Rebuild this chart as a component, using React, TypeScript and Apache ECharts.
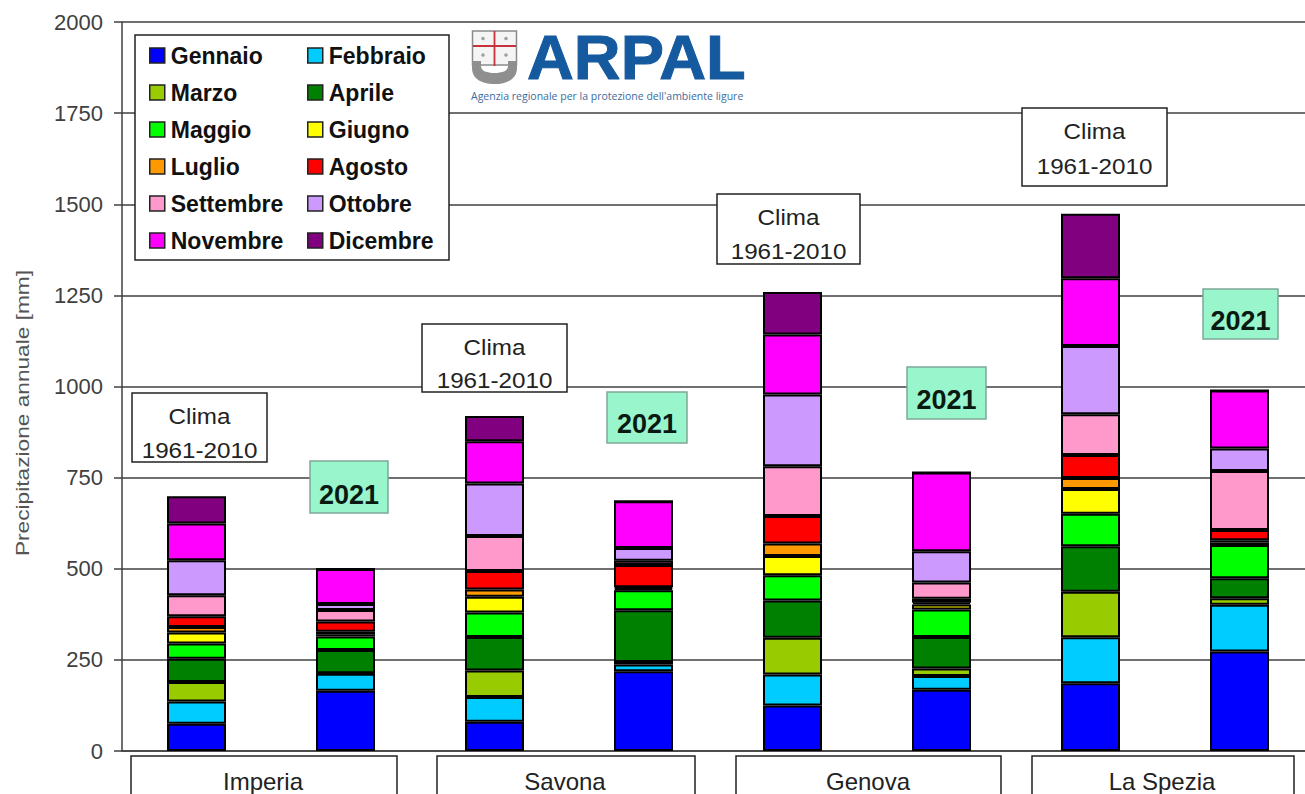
import React, { useEffect, useRef } from "react";
import * as echarts from "echarts";

const categories = [
  "Imperia Clima", "Imperia 2021", "Savona Clima", "Savona 2021",
  "Genova Clima", "Genova 2021", "La Spezia Clima", "La Spezia 2021",
];
const months = [
  "Gennaio", "Febbraio", "Marzo", "Aprile", "Maggio", "Giugno",
  "Luglio", "Agosto", "Settembre", "Ottobre", "Novembre", "Dicembre",
];
const monthColors = [
  "#0000FF", "#00CCFF", "#99CC00", "#008000", "#00FF00", "#FFFF00",
  "#FF9900", "#FF0000", "#FF99CC", "#CC99FF", "#FF00FF", "#800080",
];
const gennaio = [75, 165, 80, 219, 125, 168, 186, 273];
const febbraio = [61, 47, 68, 18, 85, 38, 126, 128];
const marzo = [53, 1, 73, 7, 101, 20, 125, 18];
const aprile = [64, 64, 92, 142, 102, 87, 125, 55];
const maggio = [42, 37, 67, 55, 69, 75, 89, 91];
const giugno = [30, 6, 43, 4, 53, 14, 68, 7];
const luglio = [15, 7, 20, 4, 34, 5, 30, 6];
const agosto = [30, 28, 51, 61, 76, 11, 63, 28];
const settembre = [57, 32, 96, 12, 136, 44, 112, 162];
const ottobre = [96, 16, 144, 35, 197, 86, 187, 62];
const novembre = [101, 96, 116, 128, 165, 216, 186, 159];
const dicembre = [75, 0, 69, 0, 116, 0, 177, 0];
const monthValues = [
  gennaio, febbraio, marzo, aprile, maggio, giugno,
  luglio, agosto, settembre, ottobre, novembre, dicembre,
];
const legendLeft = ["Gennaio", "Marzo", "Maggio", "Luglio", "Settembre", "Novembre"];
const legendRight = ["Febbraio", "Aprile", "Giugno", "Agosto", "Ottobre", "Dicembre"];
const provinces = ["Imperia", "Savona", "Genova", "La Spezia"];
const climaLabel = ["Clima", "1961-2010"];
const yearLabel = "2021";

echarts.graphic.registerShape(
  "shieldBand",
  echarts.graphic.extendPath(
    "M0 0 L0 7 C0 18 10 23 22.5 23 C35 23 45 18 45 7 L45 0 L36 0 L36 5 C36 10 30 12 22.5 12 C15 12 9 10 9 5 L9 0 Z",
    {}
  )
);

const FONT = "'Liberation Sans', Arial, sans-serif";
const INK = "#404040";

const txt = (
  text: string, x: number, y: number, fontSize: number,
  extra: any = {}, fontWeight: any = "normal", fill = "#222"
) => ({
  type: "text", x, y, z: 21, ...extra,
  style: { text, fontSize, fontWeight, fontFamily: FONT, fill, align: "center", verticalAlign: "middle" },
});
const box = (x: number, y: number, width: number, height: number, fill: string, stroke: string, z = 20, lineWidth = 1.5) => ({
  type: "rect", z, shape: { x, y, width, height }, style: { fill, stroke, lineWidth },
});

const climaBoxes = [
  [132, 393, 135, 69, 416, 450],
  [422, 324, 145, 68, 347, 380],
  [717, 194, 143, 70, 217, 251],
  [1022, 108, 145, 78, 131, 166],
];
const yearBoxes = [
  [310, 461, 78, 52, 495],
  [607, 392, 80, 51, 424],
  [907, 367, 79, 52, 400],
  [1203, 289, 75, 50, 321],
];
const provinceBoxes = [
  [131, 756, 266, 60, 263, 781],
  [437, 756, 258, 60, 565, 781],
  [736, 756, 265, 60, 868, 781],
  [1032, 756, 262, 60, 1162, 781],
];

function buildGraphic() {
  const els: any[] = [];
  els.push(box(135, 35, 314, 225, "#fff", "#222", 3));
  climaBoxes.forEach(([x, y, w, h, y1, y2]) => {
    els.push(box(x, y, w, h, "#fff", "#222"));
    els.push(txt(climaLabel[0], x + w / 2, y1, 22, { scaleX: 1.1 }));
    els.push(txt(climaLabel[1], x + w / 2, y2, 22, { scaleX: 1.1 }));
  });
  yearBoxes.forEach(([x, y, w, h, ty]) => {
    els.push(box(x, y, w, h, "#99F5CC", "#7FA898"));
    els.push(txt(yearLabel, x + w / 2, ty, 27, {}, "bold", "#0a1a10"));
  });
  provinceBoxes.forEach(([x, y, w, h, cx, cy], i) => {
    els.push(box(x, y, w, h, "#fff", "#222"));
    els.push(txt(provinces[i], cx, cy, 24));
  });
  els.push(txt("Precipitazione annuale [mm]", 22, 413, 18, { rotation: Math.PI / 2, scaleX: 1.26, z: 5 }, "normal", "#555"));

  // ARPAL logo
  els.push(box(472.5, 31, 44, 34, "#f4f4f4", "#8a8a8a", 5, 1.5));
  els.push({ type: "line", z: 6, shape: { x1: 494.5, y1: 31, x2: 494.5, y2: 66 }, style: { stroke: "#c8323c", lineWidth: 1.8 } });
  els.push({ type: "line", z: 6, shape: { x1: 473, y1: 46, x2: 516, y2: 46 }, style: { stroke: "#c8323c", lineWidth: 1.8 } });
  [[483, 38.5], [506, 38.5], [483, 55], [506, 55]].forEach(([cx, cy]) => {
    els.push({ type: "circle", z: 6, shape: { cx, cy, r: 1.8 }, style: { fill: "#9aa59a" } });
  });
  els.push({ type: "shieldBand", z: 6, x: 472, y: 61, style: { fill: "#8f8f8f" } });
  els.push({
    type: "text", z: 6, x: 527, y: 57, scaleX: 1.03,
    style: { text: "ARPAL", fontSize: 63, lineHeight: 50, fontWeight: "bold", fontFamily: FONT, fill: "#15599F", stroke: "#15599F", lineWidth: 1, align: "left", verticalAlign: "middle" },
  });
  els.push({
    type: "text", z: 6, x: 471, y: 96,
    style: { text: "Agenzia regionale per la protezione dell'ambiente ligure", fontSize: 10.5, fontFamily: "'Open Sans', sans-serif", fill: "#3D6C9E", align: "left", verticalAlign: "middle" },
  });
  return els;
}

const legendBase = {
  orient: "vertical", top: 43, padding: 0, itemWidth: 15, itemHeight: 15, itemGap: 12, selectedMode: false, icon: "rect", z: 5,
  itemStyle: { borderColor: "#222", borderWidth: 1.5 },
  textStyle: { fontFamily: FONT, fontSize: 23, fontWeight: "bold", color: "#111", padding: [0, 0, 0, 1], lineHeight: 25 },
};

export default function App() {
  const ref = useRef<HTMLDivElement>(null);
  useEffect(() => {
    const chart = echarts.init(ref.current!, undefined, { renderer: "svg" });
    chart.setOption({
      animation: false,
      backgroundColor: "#fff",
      grid: { left: 122, top: 22, width: 1192, height: 729, containLabel: false, outerBoundsMode: "none" },
      legend: [
        { ...legendBase, left: 149, data: legendLeft },
        { ...legendBase, left: 307, data: legendRight },
      ],
      xAxis: {
        type: "category",
        data: categories,
        axisLabel: { show: false },
        axisTick: { show: false },
        axisLine: { lineStyle: { color: INK, width: 1.5 } },
      },
      yAxis: {
        type: "value",
        min: 0,
        max: 2000,
        interval: 250,
        axisLine: { show: true, lineStyle: { color: INK, width: 1.5 } },
        axisTick: { show: true, length: 8, lineStyle: { color: INK, width: 1.5 } },
        axisLabel: { color: "#404040", fontFamily: FONT, fontSize: 22, margin: 19, formatter: (v: number) => String(v) },
        splitLine: { lineStyle: { color: INK, width: 1.5 } },
      },
      series: months.map((name, i) => ({
        name,
        type: "bar",
        stack: "total",
        barWidth: 59,
        data: monthValues[i],
        itemStyle: { color: monthColors[i], borderColor: "#000", borderWidth: 2 },
      })),
      graphic: buildGraphic(),
    });
    return () => chart.dispose();
  }, []);
  return (
    <div
      ref={ref}
      style={{ position: "absolute", left: 0, top: 0, width: 1305, height: 794, overflow: "hidden" }}
    />
  );
}
